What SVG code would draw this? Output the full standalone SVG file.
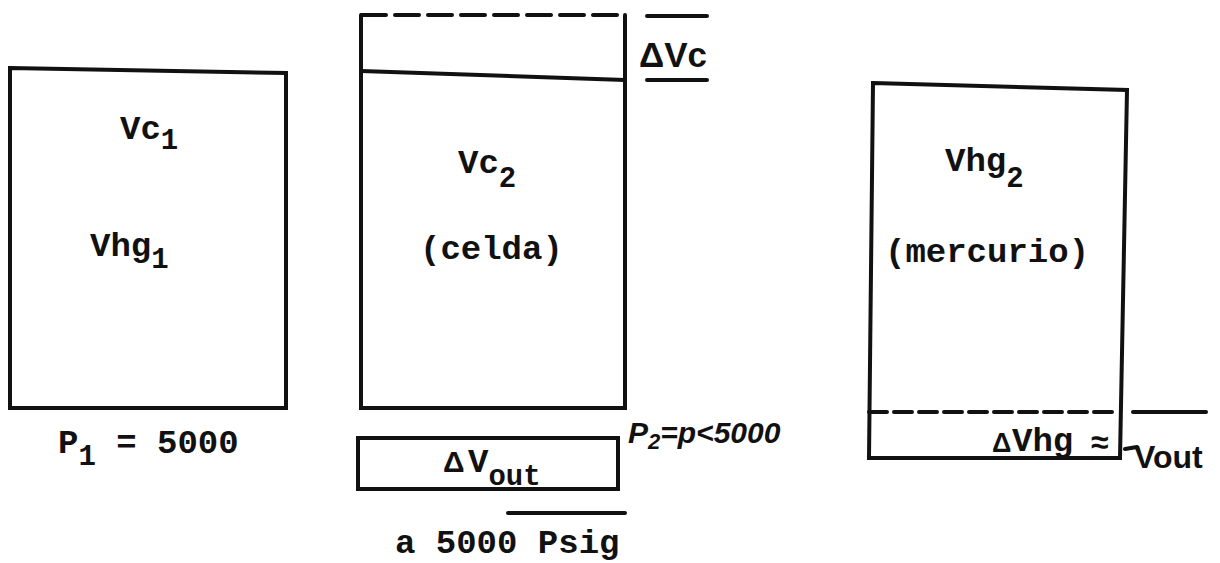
<svg xmlns="http://www.w3.org/2000/svg" width="1220" height="563" viewBox="0 0 1220 563">
<style>
.ln{stroke:#111;stroke-width:4;fill:none;stroke-linecap:round}
.dash1{stroke-dasharray:24 9}
.dash2{stroke-dasharray:18 7}
.tw{font-family:"Liberation Mono","DejaVu Sans Mono",monospace;font-weight:bold;fill:#111;font-size:34px}
.sub{font-size:29px}
.hw{font-family:"Liberation Sans","DejaVu Sans",sans-serif;font-weight:bold;fill:#111}
</style>
<rect width="1220" height="563" fill="#fff"/>
<g id="box1">
<path class="ln" d="M10,68 L286,73 L286,408 L10,408 Z"/>
<text class="tw" x="120" y="139">Vc<tspan class="sub" dy="10">1</tspan></text>
<text class="tw" x="90" y="256">Vhg<tspan class="sub" dy="12">1</tspan></text>
<text class="tw" x="58" y="453" font-size="35">P<tspan class="sub" dy="12">1</tspan><tspan dy="-12"> = 5000</tspan></text>
</g>
<g id="box2">
<path class="ln" d="M361,15 L361,408 L625,408 L625,15"/>
<path class="ln dash1" d="M362,15 L625,15"/>
<path class="ln" d="M361,71 L625,80"/>
<path class="ln" d="M647,16 L707,16 M647,80 L707,80"/>
<text class="hw" x="639" y="67" font-size="35">ΔVc</text>
<text class="tw" x="458" y="173">Vc<tspan class="sub" dy="14">2</tspan></text>
<text class="tw" x="420" y="259">(celda)</text>
</g>
<g id="box3">
<path class="ln" d="M358,438 L618,438 L618,489 L358,489 Z"/>
<text class="hw" x="443" y="472" font-size="30">Δ</text>
<text class="tw" x="468" y="472">V<tspan class="sub" dy="13">out</tspan></text>
<text class="hw" x="628" y="443" font-size="30" font-style="italic">P<tspan font-size="22" dy="6">2</tspan><tspan dy="-6">=p&lt;5000</tspan></text>
<path class="ln" d="M508,513 L625,513" stroke-width="3"/>
<text class="tw" x="395" y="553" font-size="35">a 5000 Psig</text>
</g>
<g id="box4">
<path class="ln" d="M873,83 L1127,90 L1120,458 L869,458 Z"/>
<path class="ln dash2" d="M869,412 L1119,412"/>
<path class="ln" d="M1133,412 L1206,412"/>
<text class="tw" x="945" y="171">Vhg<tspan class="sub" dy="16">2</tspan></text>
<text class="tw" x="885" y="262">(mercurio)</text>
<text class="hw" x="992" y="452" font-size="27">Δ</text>
<text class="tw" x="1012" y="451" font-size="29">Vhg</text>
<text class="hw" x="1091" y="453" font-size="32">≈</text>
<path class="ln" d="M1125,449 L1137,447" stroke-width="5"/>
<text class="hw" x="1134" y="468" font-size="32">Vout</text>
</g>
</svg>
